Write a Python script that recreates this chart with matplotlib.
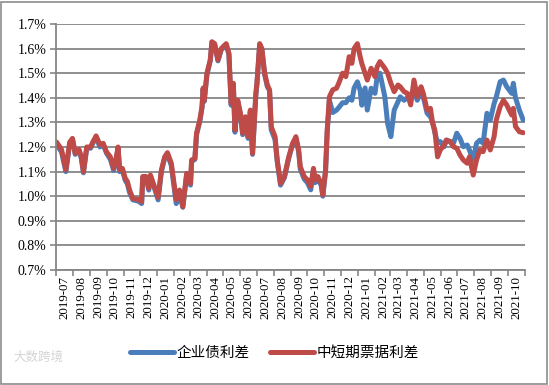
import numpy as np
import pandas as pd
import matplotlib
matplotlib.use('Agg')
import matplotlib.pyplot as plt
import matplotlib.dates as mdates
from matplotlib.patches import Rectangle

plt.rcParams['font.family'] = ['Noto Sans CJK SC', 'DejaVu Sans']

# data (spread, %)
dates = ['2019-07-02', '2019-07-11', '2019-07-19', '2019-07-26', '2019-07-31', '2019-08-05', '2019-08-12', '2019-08-16',
         '2019-08-20', '2019-08-26', '2019-09-02', '2019-09-06', '2019-09-12', '2019-09-19', '2019-09-25', '2019-10-01',
         '2019-10-08', '2019-10-14', '2019-10-18', '2019-10-22', '2019-10-25', '2019-10-30', '2019-11-04', '2019-11-08',
         '2019-11-12', '2019-11-18', '2019-11-28', '2019-12-04', '2019-12-06', '2019-12-12', '2019-12-17', '2019-12-20',
         '2019-12-27', '2020-01-03', '2020-01-09', '2020-01-15', '2020-01-20', '2020-01-27', '2020-02-05', '2020-02-11',
         '2020-02-17', '2020-02-24', '2020-03-02', '2020-03-04', '2020-03-10', '2020-03-13', '2020-03-19', '2020-03-23',
         '2020-03-25', '2020-03-27', '2020-04-01', '2020-04-07', '2020-04-10', '2020-04-15', '2020-04-21', '2020-04-27',
         '2020-05-06', '2020-05-11', '2020-05-15', '2020-05-19', '2020-05-22', '2020-05-27', '2020-06-01', '2020-06-05',
         '2020-06-10', '2020-06-15', '2020-06-19', '2020-06-23', '2020-06-29', '2020-07-01', '2020-07-06', '2020-07-10',
         '2020-07-15', '2020-07-20', '2020-07-24', '2020-07-27', '2020-08-03', '2020-08-07', '2020-08-13', '2020-08-20',
         '2020-08-28', '2020-09-04', '2020-09-10', '2020-09-15', '2020-09-18', '2020-09-25', '2020-10-01', '2020-10-07',
         '2020-10-12', '2020-10-15', '2020-10-20', '2020-10-26', '2020-10-29', '2020-11-03', '2020-11-06', '2020-11-10',
         '2020-11-16', '2020-11-23', '2020-11-27', '2020-12-04', '2020-12-10', '2020-12-16', '2020-12-21', '2020-12-25',
         '2020-12-31', '2021-01-05', '2021-01-08', '2021-01-14', '2021-01-18', '2021-01-25', '2021-02-01', '2021-02-05',
         '2021-02-10', '2021-02-19', '2021-02-24', '2021-03-02', '2021-03-08', '2021-03-15', '2021-03-19', '2021-03-26',
         '2021-04-01', '2021-04-07', '2021-04-13', '2021-04-19', '2021-04-26', '2021-04-30', '2021-05-07', '2021-05-13',
         '2021-05-17', '2021-05-21', '2021-05-26', '2021-05-31', '2021-06-07', '2021-06-11', '2021-06-18', '2021-06-24',
         '2021-06-30', '2021-07-06', '2021-07-12', '2021-07-19', '2021-07-23', '2021-07-30', '2021-08-05', '2021-08-11',
         '2021-08-17', '2021-08-24', '2021-08-30', '2021-09-06', '2021-09-10', '2021-09-17', '2021-09-23', '2021-09-29',
         '2021-10-08', '2021-10-11', '2021-10-15', '2021-10-22', '2021-10-29']

corp_bond = [1.21, 1.18, 1.10, 1.215, 1.23, 1.17, 1.185, 1.155,
             1.095, 1.195, 1.195, 1.215, 1.24, 1.20, 1.21, 1.175,
             1.15, 1.105, 1.14, 1.195, 1.10, 1.105, 1.065, 1.05,
             1.015, 0.985, 0.98, 0.97, 1.075, 1.075, 1.025, 1.08,
             1.035, 0.985, 1.10, 1.155, 1.17, 1.125, 0.97, 1.015,
             0.955, 1.085, 1.045, 1.14, 1.15, 1.25, 1.305, 1.36,
             1.435, 1.385, 1.495, 1.55, 1.625, 1.615, 1.55, 1.595,
             1.615, 1.575, 1.37, 1.455, 1.26, 1.385, 1.33, 1.25,
             1.32, 1.235, 1.345, 1.17, 1.41, 1.455, 1.615, 1.595,
             1.495, 1.445, 1.43, 1.27, 1.23, 1.14, 1.045, 1.075,
             1.155, 1.21, 1.235, 1.18, 1.11, 1.07, 1.055, 1.026,
             1.105, 1.055, 1.07, 1.045, 1.00, 1.10, 1.26, 1.39,
             1.34, 1.35, 1.36, 1.38, 1.38, 1.40, 1.39, 1.44,
             1.465, 1.43, 1.37, 1.44, 1.35, 1.439, 1.418, 1.486,
             1.50, 1.404, 1.296, 1.242, 1.35, 1.384, 1.404, 1.39,
             1.40, 1.41, 1.432, 1.39, 1.425, 1.404, 1.337, 1.323,
             1.30, 1.26, 1.215, 1.222, 1.201, 1.228, 1.222, 1.215,
             1.256, 1.235, 1.201, 1.208, 1.188, 1.147, 1.215, 1.228,
             1.215, 1.337, 1.31, 1.377, 1.404, 1.465, 1.472, 1.445,
             1.418, 1.459, 1.40, 1.35, 1.31]

mtn_cp = [1.22, 1.19, 1.107, 1.22, 1.235, 1.175, 1.19, 1.16,
          1.10, 1.20, 1.20, 1.22, 1.245, 1.21, 1.215, 1.18,
          1.16, 1.113, 1.147, 1.20, 1.107, 1.113, 1.073, 1.06,
          1.025, 0.99, 0.987, 0.978, 1.08, 1.08, 1.032, 1.086,
          1.04, 0.995, 1.107, 1.16, 1.177, 1.134, 0.985, 1.025,
          0.957, 1.093, 1.052, 1.147, 1.154, 1.256, 1.31, 1.364,
          1.44, 1.39, 1.50, 1.554, 1.628, 1.62, 1.554, 1.60,
          1.62, 1.58, 1.378, 1.459, 1.269, 1.39, 1.337, 1.256,
          1.323, 1.242, 1.35, 1.174, 1.418, 1.459, 1.62, 1.60,
          1.50, 1.452, 1.432, 1.283, 1.242, 1.147, 1.052, 1.08,
          1.16, 1.215, 1.242, 1.188, 1.12, 1.08, 1.066, 1.04,
          1.113, 1.066, 1.08, 1.052, 1.005, 1.107, 1.269, 1.404,
          1.432, 1.439, 1.459, 1.50, 1.486, 1.567, 1.54, 1.60,
          1.62, 1.567, 1.54, 1.50, 1.472, 1.52, 1.486, 1.526,
          1.547, 1.52, 1.50, 1.459, 1.425, 1.452, 1.445, 1.425,
          1.418, 1.371, 1.472, 1.404, 1.445, 1.418, 1.35, 1.357,
          1.296, 1.269, 1.16, 1.188, 1.208, 1.228, 1.222, 1.201,
          1.195, 1.167, 1.147, 1.134, 1.16, 1.086, 1.147, 1.188,
          1.181, 1.228, 1.188, 1.242, 1.31, 1.364, 1.39, 1.371,
          1.33, 1.357, 1.283, 1.262, 1.258]

series_names = ['企业债利差', '中短期票据利差']
y_ticks = [0.7, 0.8, 0.9, 1.0, 1.1, 1.2, 1.3, 1.4, 1.5, 1.6, 1.7]

x = pd.to_datetime(dates)
grid_gray = '#868686'

fig = plt.figure(figsize=(5.49, 3.85), dpi=100)
ax = fig.add_axes([0.102, 0.2987, 0.854, 0.639])

ax.plot(x, corp_bond, color='#4A7EBB', lw=3.6, solid_capstyle='round', solid_joinstyle='round', label=series_names[0])
ax.plot(x, mtn_cp, color='#BE4B48', lw=3.6, solid_capstyle='round', solid_joinstyle='round', label=series_names[1])

ax.set_ylim(0.7, 1.7)
ax.set_yticks(y_ticks)
ax.set_yticklabels([f'{v:.1f}%' for v in y_ticks], family=['Liberation Serif'], fontsize=10)
ax.yaxis.grid(True, color=grid_gray, lw=1.3)
ax.set_axisbelow(True)

ax.set_xlim(pd.Timestamp('2019-07-01'), pd.Timestamp('2021-11-01'))
ax.xaxis.set_major_locator(mdates.MonthLocator())
ax.xaxis.set_major_formatter(plt.NullFormatter())
ax.xaxis.set_minor_locator(mdates.MonthLocator(bymonthday=16))
ax.xaxis.set_minor_formatter(mdates.DateFormatter('%Y-%m'))
ax.tick_params(axis='x', which='major', length=4, width=1.2, color=grid_gray, direction='out')
ax.tick_params(axis='x', which='minor', length=0, pad=4)
for lbl in ax.xaxis.get_minorticklabels():
    lbl.set_rotation(90)
    lbl.set_family(['Liberation Serif'])
    lbl.set_fontsize(9.3)
ax.tick_params(axis='y', length=4, width=1.2, color=grid_gray, pad=3)

for side in ['top', 'right']:
    ax.spines[side].set_visible(False)
for side in ['left', 'bottom']:
    ax.spines[side].set_color(grid_gray)
    ax.spines[side].set_linewidth(1.3)

ax.legend(loc='center', bbox_to_anchor=(0.5, 0.083), bbox_transform=fig.transFigure, ncol=2, frameon=False,
          fontsize=10.5, handlelength=3, handletextpad=0.2, columnspacing=1.4)

# faint watermark, bottom left
fig.text(0.025, 0.072, '大数跨境', fontsize=9, color='#d4d4d4', va='center')
fig.patches.append(Rectangle((0.002, 0.003), 0.995, 0.993, transform=fig.transFigure,
                             fill=False, edgecolor='#8c8c8c', lw=1.2))

fig.savefig('out.png', dpi=100)
